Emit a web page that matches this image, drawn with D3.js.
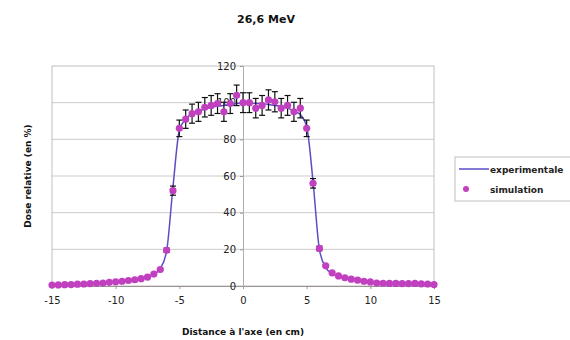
<!DOCTYPE html>
<html><head><meta charset="utf-8">
<script src="https://cdn.jsdelivr.net/npm/d3@7"></script>
<style>body{margin:0;background:#fff}svg{display:block}</style>
</head><body>
<svg id="c" width="570" height="340"></svg>
<script>
const title = "26,6 MeV";
const xLabel = "Distance à l'axe (en cm)";
const yLabel = "Dose relative (en %)";
const seriesNames = ["experimentale", "simulation"];
const xTicks = [-15, -10, -5, 0, 5, 10, 15];
const yTicks = [0, 20, 40, 60, 80, 100, 120];

// experimental profile (cm, %)
const expX = [-15,-14.5,-14,-13.5,-13,-12.5,-12,-11.5,-11,-10.5,-10,-9.5,-9,-8.5,-8,-7.5,-7,-6.5,-6,-5.5,-5,-4.5,-4,-3.5,-3,-2.5,-2,-1.5,-1,-0.5,0,0.5,1,1.5,2,2.5,3,3.5,4,4.5,5,5.5,6,6.5,7,7.5,8,8.5,9,9.5,10,10.5,11,11.5,12,12.5,13,13.5,14,14.5,15];
const expY = [0.5,0.6,0.7,0.8,0.9,1.0,1.2,1.4,1.6,1.9,2.2,2.6,3.0,3.5,4.2,5.2,6.5,9.5,19,54,85,91,94,95.5,96.5,97.5,98,98.5,99,99.5,100,100,99.5,99.5,99,98.5,98,97,95.5,93.5,87,57,20,10,6.8,5.2,4.2,3.5,2.9,2.4,2.0,1.7,1.5,1.3,1.2,1.1,1.0,0.9,0.8,0.7,0.6];

// simulation (cm, %, error)
const simX = [-15,-14.5,-14,-13.5,-13,-12.5,-12,-11.5,-11,-10.5,-10,-9.5,-9,-8.5,-8,-7.5,-7,-6.5,-6,-5.5,-5,-4.5,-4,-3.5,-3,-2.5,-2,-1.5,-1,-0.5,0,0.5,1,1.5,2,2.5,3,3.5,4,4.5,5,5.5,6,6.5,7,7.5,8,8.5,9,9.5,10,10.5,11,11.5,12,12.5,13,13.5,14,14.5,15];
const simY = [0.5,0.6,0.7,0.8,1.0,1.1,1.3,1.5,1.6,2.0,2.3,2.6,3.0,3.4,4.0,4.8,6.5,9.0,19.5,52,86,91,94,95,97.5,98.5,99.5,95,99.5,104,100,100,97,98.5,101.5,100.5,97,98.5,95,97,86,56,20.5,11,7.2,5.5,4.5,3.7,3.2,2.6,2.2,1.6,1.5,1.4,1.4,1.3,1.3,1.4,1.2,1.1,0.8];
const simErr = [0.1,0.1,0.1,0.1,0.1,0.1,0.1,0.1,0.1,0.1,0.1,0.2,0.2,0.2,0.2,0.3,0.4,0.6,1.2,2.5,4.5,5,5.2,5.2,5.3,5.4,5.4,5.2,5.4,5.6,5.4,5.4,5.3,5.4,5.5,5.5,5.3,5.4,5.2,5.3,4.5,2.6,1.2,0.6,0.4,0.3,0.2,0.2,0.2,0.1,0.1,0.1,0.1,0.1,0.1,0.1,0.1,0.1,0.1,0.1,0.1];

const svg = d3.select("#c");
const font = "'DejaVu Sans', Verdana, sans-serif";
const x = d3.scaleLinear().domain([-15, 15]).range([52, 434]);
const y = d3.scaleLinear().domain([0, 120]).range([286, 66]);

// gridlines
svg.append("g").selectAll("line").data(yTicks.filter(d => d > 0 && d < 120)).join("line")
  .attr("x1", x(-15)).attr("x2", x(15)).attr("y1", d => y(d)).attr("y2", d => y(d))
  .attr("stroke", "#cfcaca").attr("stroke-width", 1);

// frame
svg.append("rect").attr("x", x(-15)).attr("y", y(120))
  .attr("width", x(15) - x(-15)).attr("height", y(0) - y(120))
  .attr("fill", "none").attr("stroke", "#c4bebe").attr("stroke-width", 1);

// x axis at y=0
const xAxis = d3.axisBottom(x).tickValues(xTicks).tickSize(3).tickPadding(8).tickFormat(d => d);
const gx = svg.append("g").attr("transform", `translate(0,${y(0)})`).call(xAxis);
gx.select(".domain").attr("stroke", "#9a9494");
gx.selectAll(".tick line").attr("stroke", "#9a9494");
gx.selectAll("text").attr("font-family", font).attr("font-size", 10).attr("fill", "#222");

// y axis at x=0
const yAxis = d3.axisLeft(y).tickValues(yTicks).tickSize(3).tickPadding(4);
const gy = svg.append("g").attr("transform", `translate(${x(0)},0)`).call(yAxis);
gy.select(".domain").attr("stroke", "#b5adad");
gy.selectAll(".tick line").attr("stroke", "#9a9494");
gy.selectAll("text").attr("font-family", font).attr("font-size", 10).attr("fill", "#222");

// experimental line
const expData = expX.map((d, i) => [d, expY[i]]);
svg.append("path").datum(expData)
  .attr("d", d3.line().x(d => x(d[0])).y(d => y(d[1])).curve(d3.curveMonotoneX))
  .attr("fill", "none").attr("stroke", "#5a4ec4").attr("stroke-width", 1.5);

// simulation error bars + points
const simData = simX.map((d, i) => ({x: d, y: simY[i], e: simErr[i]}));
const eb = svg.append("g").attr("stroke", "#111").attr("stroke-width", 1.2);
simData.forEach(d => {
  if (d.e < 0.5) return;
  eb.append("line").attr("x1", x(d.x)).attr("x2", x(d.x)).attr("y1", y(d.y - d.e)).attr("y2", y(d.y + d.e));
  eb.append("line").attr("x1", x(d.x) - 3).attr("x2", x(d.x) + 3).attr("y1", y(d.y - d.e)).attr("y2", y(d.y - d.e));
  eb.append("line").attr("x1", x(d.x) - 3).attr("x2", x(d.x) + 3).attr("y1", y(d.y + d.e)).attr("y2", y(d.y + d.e));
});
svg.append("g").selectAll("circle").data(simData).join("circle")
  .attr("cx", d => x(d.x)).attr("cy", d => y(d.y)).attr("r", 3.6)
  .attr("fill", "#c040c0");

// title and axis labels
svg.append("text").attr("x", 266).attr("y", 23).attr("text-anchor", "middle")
  .attr("font-family", font).attr("font-weight", "bold").attr("font-size", 11).attr("fill", "#111").text(title);
svg.append("text").attr("x", 243).attr("y", 335).attr("text-anchor", "middle")
  .attr("font-family", font).attr("font-weight", "bold").attr("font-size", 9).attr("fill", "#111").text(xLabel);
svg.append("text").attr("transform", "translate(31,176) rotate(-90)").attr("text-anchor", "middle")
  .attr("font-family", font).attr("font-weight", "bold").attr("font-size", 9).attr("fill", "#111").text(yLabel);

// legend
const lg = svg.append("g");
lg.append("rect").attr("x", 455).attr("y", 157).attr("width", 120).attr("height", 44)
  .attr("fill", "#fff").attr("stroke", "#c4bebe");
lg.append("line").attr("x1", 459).attr("x2", 489).attr("y1", 169).attr("y2", 169)
  .attr("stroke", "#5a4ec4").attr("stroke-width", 1.5);
lg.append("text").attr("x", 490).attr("y", 172.5).attr("font-family", font).attr("font-weight", "bold")
  .attr("font-size", 9).attr("fill", "#222").text(seriesNames[0]);
lg.append("circle").attr("cx", 466).attr("cy", 189).attr("r", 3).attr("fill", "#c040c0");
lg.append("text").attr("x", 490).attr("y", 192.5).attr("font-family", font).attr("font-weight", "bold")
  .attr("font-size", 9).attr("fill", "#222").text(seriesNames[1]);
</script>
</body></html>
